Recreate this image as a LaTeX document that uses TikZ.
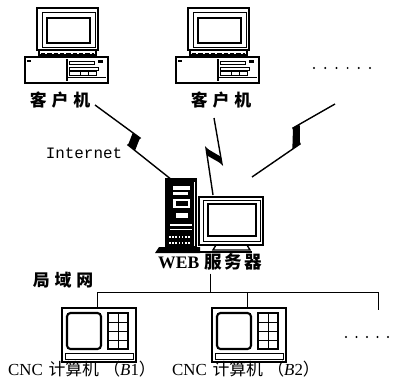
\documentclass[tikz,border=0pt]{standalone}
\usepackage{fontspec}
\setmainfont{Liberation Serif}
\newfontfamily\cjk{Noto Sans CJK SC}
\newfontfamily\monofnt{Liberation Mono}
\usetikzlibrary{calc}
\begin{document}
\begin{tikzpicture}[x=0.25mm,y=-0.25mm,
  heavy/.style={draw=black,line width=1.5pt},
  medium/.style={draw=black,line width=1pt},
  fine/.style={draw=black,line width=0.6pt},
  wire/.style={draw=black,line width=0.7pt},
  bolt/.style={draw=black,line width=1pt,miter limit=20},
  lbl/.style={inner sep=0pt,font=\cjk\bfseries\fontsize{12}{12}\selectfont},
  cnclbl/.style={inner sep=0pt,font=\fontsize{12}{13}\selectfont},
]
\useasboundingbox (0,0) rectangle (398,378);

% ---- client workstation (desktop case with monitor on top) ----
\newcommand\clientbox[1]{%
\begin{scope}[shift={(#1,0)}]
  % monitor
  \draw[heavy] (37,8) rectangle (98,50);
  \draw[fine] (42,12) rectangle (95,47);
  \draw[heavy] (47,18) rectangle (90,43);
  \draw[medium] (39,50) rectangle (96,55);
  \draw[fine,dash pattern=on 3pt off 1.5pt] (41,53) -- (94,53);
  % case
  \draw[heavy] (25,57) rectangle (108,83);
  \draw[medium] (67,59) -- (67,81);
  \draw[fine] (69,61) rectangle (94,64);
  \draw[fine] (69,67) rectangle (98,70);
  \draw[fine] (69,71) rectangle (96,75);
  \draw[fine] (80,71) -- (80,75) (88,71) -- (88,75);
  \draw[fine] (67,77) -- (106,77);
  \fill (98,60) rectangle (103,63);
  \fill (27,60) rectangle (31,62);
\end{scope}}

\clientbox{0}
\clientbox{151}

\node[lbl] (c1) at (60,100) {客\hspace{3.5pt}户\hspace{3.5pt}机};
\node[lbl] (c2) at (221,100) {客\hspace{3.5pt}户\hspace{3.5pt}机};

% more clients
\foreach \i in {0,...,5} \fill (314+\i*11.2,68) circle (1.1);

% ---- WEB server: tower and monitor ----
\fill (165,178) rectangle (197,252);
\fill (155,253) -- (159,247) -- (200,247) -- (200,253) -- cycle;
\draw[white,line width=0.6pt] (194,182) -- (194,246);
\fill[white] (173,186) rectangle (190,190);
\fill[white] (173,192) rectangle (188,195);
\fill[white] (173,199) rectangle (190,208);
\fill (176,201) rectangle (188,206);
\fill[white] (176,213) rectangle (188,218);
\fill[white] (170,224) rectangle (192,226);
\fill[white] (170,229) rectangle (192,230);
\foreach \i in {0,...,6} \fill[white] (169+\i*3.2,242) rectangle (170.5+\i*3.2,243.5);
\foreach \i in {0,...,6} \fill[white] (169+\i*3.2,236) rectangle (170.5+\i*3.2,237.5);
\draw[heavy] (199,197) rectangle (263,245);
\draw[fine] (203,200) rectangle (260,241);
\draw[heavy] (208,204) rectangle (256,236);
\draw[medium] (216,245) -- (213,250) -- (250,250) -- (247,245);
\draw[heavy] (198,252) -- (252,252);

\node[inner sep=0pt] (web) at (210,262)
  {\fontsize{12.5}{13}\selectfont\bfseries WEB\hspace{4pt}\cjk 服\hspace{1.5pt}务\hspace{1.5pt}器};

\node[inner sep=0pt,font=\monofnt\fontsize{11.3}{12}\selectfont] (inet) at (84,153) {Internet};

% ---- wireless links (lightning bolts) ----
\coordinate (b1s) at (95,105);  \coordinate (b1a) at (140,138);
\coordinate (b1b) at (128,145); \coordinate (b1e) at (172,180);
\coordinate (b2s) at (214,118); \coordinate (b2a) at (222,164);
\coordinate (b2b) at (206,148); \coordinate (b2e) at (213,195);
\coordinate (b3s) at (335,104); \coordinate (b3a) at (293,128);
\coordinate (b3b) at (300,144); \coordinate (b3e) at (252,177);
\foreach \b in {b1,b2,b3}{
  \draw[bolt] (\b s) -- (\b a) -- (\b b) -- (\b e);
  \fill (\b a) -- (\b b) -- ($(\b a)!0.16!(\b s)$) -- cycle;
  \fill (\b b) -- (\b a) -- ($(\b b)!0.16!(\b e)$) -- cycle;
}

% ---- LAN ----
\node[lbl] (lan) at (63,280) {局\hspace{3.5pt}域\hspace{3.5pt}网};
\coordinate (hub) at (210,292);
\coordinate (busl) at (97,292);
\coordinate (busr) at (378,292);
\draw[wire] (web.south -| hub) ++(0,3) -- (hub);
\draw[wire] (busl) -- (busr);

% ---- CNC terminal ----
\newcommand\cncbox[2]{%
\begin{scope}[shift={(#1,0)}]
  \node[inner sep=0pt,minimum width=0pt] (#2) at (97,308) {};
  \draw[medium] (62,308) rectangle (136,362);
  \draw[heavy,rounded corners=2.5pt] (67,313) rectangle (101,349);
  \draw[medium] (108,313) rectangle (128,349);
  \draw[fine] (118,313) -- (118,349);
  \foreach \y in {322,331,340} \draw[fine] (108,\y) -- (128,\y);
  \draw[fine] (65,353) rectangle (133,359);
\end{scope}}

\cncbox{0}{cncA}
\cncbox{150}{cncB}
\draw[wire] (busl) -- (cncA.north);
\draw[wire] (cncB.north |- busr) -- (cncB.north);
\coordinate (more) at (378,310);
\draw[wire] (busr) -- (more);
\foreach \i in {0,...,4} \fill (346+\i*10.5,337) circle (1.1);

\node[cnclbl] (l1) at (82,369) {CNC\hspace{4pt}{\cjk 计算机}\hspace{3pt}{\cjk （}\textit{B}1{\cjk ）}};
\node[cnclbl] (l2) at (246,369) {CNC\hspace{4pt}{\cjk 计算机}\hspace{3pt}{\cjk （}\textit{B}2{\cjk ）}};
\end{tikzpicture}
\end{document}
